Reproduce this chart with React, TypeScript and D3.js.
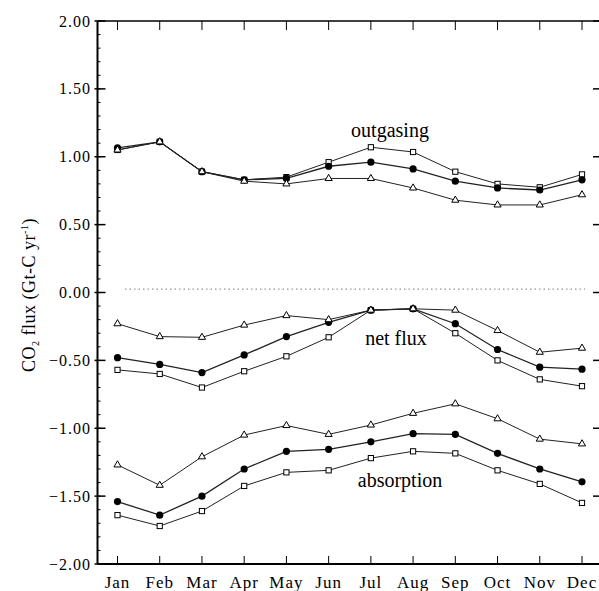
import React, { useEffect, useRef } from 'react';
import * as d3 from 'd3';

const months = ['Jan', 'Feb', 'Mar', 'Apr', 'May', 'Jun', 'Jul', 'Aug', 'Sep', 'Oct', 'Nov', 'Dec'];
const yTicks = [-2, -1.5, -1, -0.5, 0, 0.5, 1, 1.5, 2];

// outgasing
const outSquare = [1.05, 1.11, 0.89, 0.83, 0.85, 0.96, 1.07, 1.035, 0.89, 0.80, 0.775, 0.87];
const outCircle = [1.065, 1.11, 0.89, 0.83, 0.84, 0.93, 0.96, 0.91, 0.82, 0.77, 0.755, 0.83];
const outTriangle = [1.05, 1.11, 0.89, 0.82, 0.80, 0.84, 0.84, 0.77, 0.68, 0.645, 0.645, 0.72];

// net flux
const netSquare = [-0.57, -0.60, -0.70, -0.58, -0.47, -0.33, -0.13, -0.12, -0.30, -0.50, -0.64, -0.69];
const netCircle = [-0.48, -0.53, -0.59, -0.46, -0.325, -0.22, -0.13, -0.12, -0.23, -0.42, -0.55, -0.565];
const netTriangle = [-0.23, -0.325, -0.33, -0.24, -0.17, -0.20, -0.13, -0.12, -0.13, -0.28, -0.44, -0.41];

// absorption
const absSquare = [-1.64, -1.72, -1.61, -1.425, -1.325, -1.31, -1.22, -1.17, -1.185, -1.31, -1.41, -1.55];
const absCircle = [-1.54, -1.64, -1.50, -1.30, -1.17, -1.155, -1.10, -1.04, -1.045, -1.185, -1.30, -1.395];
const absTriangle = [-1.27, -1.42, -1.21, -1.05, -0.98, -1.045, -0.976, -0.89, -0.82, -0.93, -1.08, -1.115];

const zeroLine = 0.025;

const groups = [
  { label: 'outgasing', lx: 390, ly: 1.145, series: [outSquare, outCircle, outTriangle] },
  { label: 'net flux', lx: 396, ly: -0.39, series: [netSquare, netCircle, netTriangle] },
  { label: 'absorption', lx: 400, ly: -1.43, series: [absSquare, absCircle, absTriangle] },
];
const shapes = ['square', 'circle', 'triangle'];

export default function App() {
  const svgRef = useRef<SVGSVGElement>(null);
  const W = 599, H = 591;
  const L = 97.5, R = 600, T = 21, B = 564;

  useEffect(() => {
    const svg = d3.select(svgRef.current);
    svg.selectAll('*').remove();
    const font = '"Liberation Serif", "Times New Roman", serif';

    const x = d3.scalePoint<string>().domain(months).range([117.5, 582]);
    const y = d3.scaleLinear().domain([-2, 2]).range([B, T]);

    // zero reference line (dotted)
    svg.append('line')
      .attr('x1', 125).attr('x2', 585).attr('y1', y(zeroLine)).attr('y2', y(zeroLine))
      .attr('stroke', '#777').attr('stroke-width', 1).attr('stroke-dasharray', '1.5,3');

    // frame
    svg.append('line').attr('x1', L).attr('x2', R).attr('y1', T).attr('y2', T).attr('stroke', '#000').attr('stroke-width', 1.5);
    svg.append('line').attr('x1', L).attr('x2', R).attr('y1', B).attr('y2', B).attr('stroke', '#000').attr('stroke-width', 2);
    svg.append('line').attr('x1', L).attr('x2', L).attr('y1', T).attr('y2', B).attr('stroke', '#000').attr('stroke-width', 2);

    // left ticks
    const minor = d3.range(-2, 2.0001, 0.1);
    svg.append('g').selectAll('line').data(minor).join('line')
      .attr('x1', L).attr('x2', L + 3).attr('y1', d => y(d)).attr('y2', d => y(d))
      .attr('stroke', '#000').attr('stroke-width', 1);
    svg.append('g').selectAll('line').data(yTicks).join('line')
      .attr('x1', L - 3).attr('x2', L + 8).attr('y1', d => y(d)).attr('y2', d => y(d))
      .attr('stroke', '#000').attr('stroke-width', 1.5);
    svg.append('g').selectAll('text').data(yTicks).join('text')
      .attr('x', 91).attr('y', d => y(d) + 5.5)
      .attr('text-anchor', 'end').attr('font-family', font).attr('font-size', 16)
      .attr('letter-spacing', 1)
      .text(d => d3.format('.2f')(d));

    // right ticks
    svg.append('g').selectAll('line').data(yTicks).join('line')
      .attr('x1', 593).attr('x2', R).attr('y1', d => y(d)).attr('y2', d => y(d))
      .attr('stroke', '#000').attr('stroke-width', 1.5);

    // month ticks
    svg.append('g').selectAll('line').data(months).join('line')
      .attr('x1', d => x(d)!).attr('x2', d => x(d)!).attr('y1', T).attr('y2', T + 9)
      .attr('stroke', '#000').attr('stroke-width', 1);
    svg.append('g').selectAll('line').data(months).join('line')
      .attr('x1', d => x(d)!).attr('x2', d => x(d)!).attr('y1', B).attr('y2', B - 8)
      .attr('stroke', '#000').attr('stroke-width', 1);
    svg.append('g').selectAll('text').data(months).join('text')
      .attr('x', d => x(d)!).attr('y', 588)
      .attr('text-anchor', 'middle').attr('font-family', font).attr('font-size', 17)
      .attr('letter-spacing', 1)
      .text(d => d);

    // y label
    const yl = svg.append('text')
      .attr('transform', 'translate(35,295) rotate(-90)')
      .attr('text-anchor', 'middle').attr('font-family', font).attr('font-size', 18)
      .attr('letter-spacing', 0.5);
    yl.append('tspan').text('CO');
    yl.append('tspan').attr('font-size', 10).attr('dy', 4).text('2');
    yl.append('tspan').attr('dy', -4).text(' flux  (Gt-C yr');
    yl.append('tspan').attr('font-size', 10).attr('dy', -7).text('-1');
    yl.append('tspan').attr('dy', 7).text(')');

    const line = d3.line<number>().x((_, i) => x(months[i])!).y(d => y(d));

    for (const grp of groups) {
      grp.series.forEach((vals, si) => {
        svg.append('path').datum(vals).attr('d', line)
          .attr('fill', 'none').attr('stroke', '#222').attr('stroke-width', si === 1 ? 1.3 : 1);
        const g = svg.append('g');
        const shape = shapes[si];
        if (shape === 'circle') {
          g.selectAll('circle').data(vals).join('circle')
            .attr('cx', (_, i) => x(months[i])!).attr('cy', d => y(d)).attr('r', 3.6)
            .attr('fill', '#000');
        } else if (shape === 'square') {
          g.selectAll('rect').data(vals).join('rect')
            .attr('x', (_, i) => x(months[i])! - 2.6).attr('y', d => y(d) - 2.6)
            .attr('width', 5.2).attr('height', 5.2)
            .attr('fill', '#fff').attr('stroke', '#000').attr('stroke-width', 1);
        } else {
          const tri = d3.symbol().type(d3.symbolTriangle).size(22);
          g.selectAll('path').data(vals).join('path')
            .attr('transform', (d, i) => `translate(${x(months[i])},${y(d)})`)
            .attr('d', tri)
            .attr('fill', '#fff').attr('stroke', '#000').attr('stroke-width', 1);
        }
      });
      svg.append('text').attr('x', grp.lx).attr('y', y(grp.ly))
        .attr('text-anchor', 'middle').attr('font-family', font).attr('font-size', 20)
        .text(grp.label);
    }
  }, []);

  return (
    <svg ref={svgRef} width={W} height={H}
      style={{ position: 'absolute', left: 0, top: 0, background: '#fff' }} />
  );
}
